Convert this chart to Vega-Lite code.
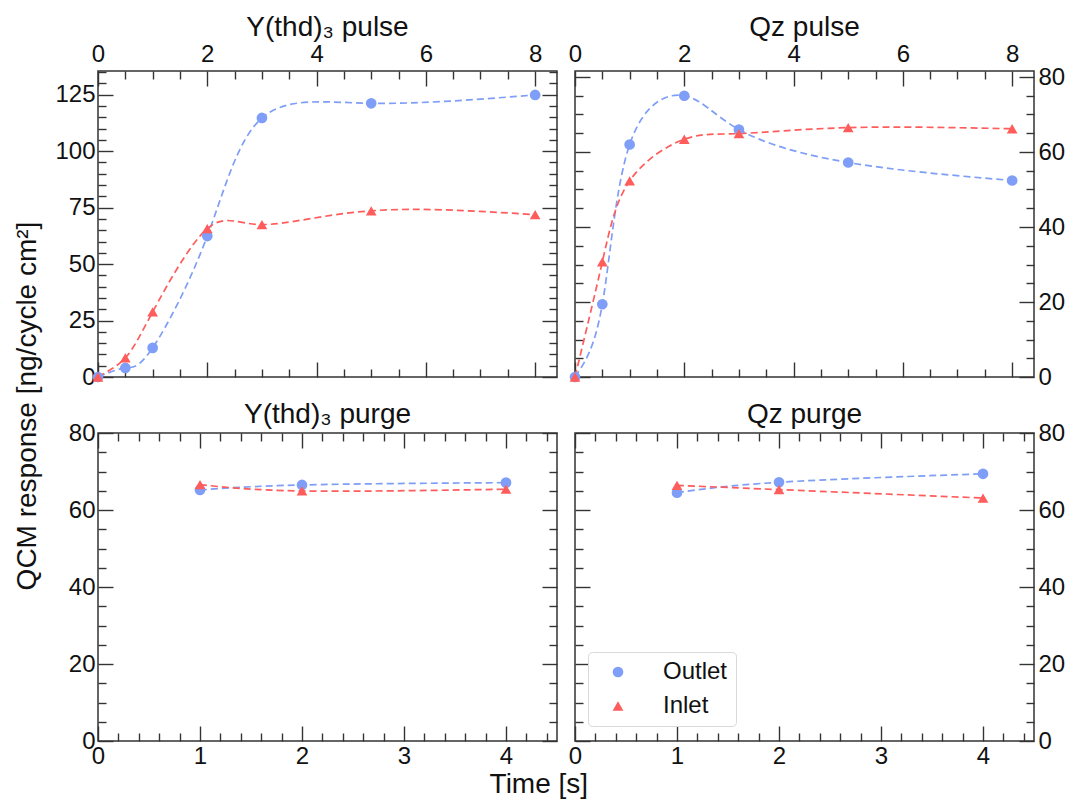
{
  "$schema": "https://vega.github.io/schema/vega-lite/v6.json",
  "background": "white",
  "padding": {"left": 14, "top": 13, "right": 0, "bottom": 0},
  "config": {
    "font": "Liberation Sans",
    "view": {"stroke": "#333333", "strokeWidth": 1.5},
    "axis": {"domain": false, "grid": false, "labelFont": "Liberation Sans", "labelFontSize": 24, "labelColor": "#111111", "tickColor": "#333333", "tickWidth": 1.4, "labelFlush": false, "labelOverlap": false},
    "title": {"font": "Liberation Sans", "fontSize": 28, "fontWeight": "normal", "color": "#111111"},
    "legend": {"labelFont": "Liberation Sans", "labelFontSize": 24, "labelColor": "#111111"}
  },
  "datasets": {
    "pts": [
      {"panel": "TL", "series": "Outlet", "t": 0, "v": 0},
      {"panel": "TL", "series": "Outlet", "t": 0.5, "v": 4.0},
      {"panel": "TL", "series": "Outlet", "t": 1, "v": 12.9},
      {"panel": "TL", "series": "Outlet", "t": 2, "v": 62.4},
      {"panel": "TL", "series": "Outlet", "t": 3, "v": 114.7},
      {"panel": "TL", "series": "Outlet", "t": 5, "v": 121.2},
      {"panel": "TL", "series": "Outlet", "t": 8, "v": 124.9},
      {"panel": "TL", "series": "Inlet", "t": 0, "v": 0},
      {"panel": "TL", "series": "Inlet", "t": 0.5, "v": 8.5},
      {"panel": "TL", "series": "Inlet", "t": 1, "v": 28.8},
      {"panel": "TL", "series": "Inlet", "t": 2, "v": 65.7},
      {"panel": "TL", "series": "Inlet", "t": 3, "v": 67.5},
      {"panel": "TL", "series": "Inlet", "t": 5, "v": 73.6},
      {"panel": "TL", "series": "Inlet", "t": 8, "v": 71.9},
      {"panel": "TR", "series": "Outlet", "t": 0, "v": 0},
      {"panel": "TR", "series": "Outlet", "t": 0.5, "v": 19.4},
      {"panel": "TR", "series": "Outlet", "t": 1, "v": 62.0},
      {"panel": "TR", "series": "Outlet", "t": 2, "v": 75.0},
      {"panel": "TR", "series": "Outlet", "t": 3, "v": 66.0},
      {"panel": "TR", "series": "Outlet", "t": 5, "v": 57.2},
      {"panel": "TR", "series": "Outlet", "t": 8, "v": 52.4},
      {"panel": "TR", "series": "Inlet", "t": 0, "v": 0},
      {"panel": "TR", "series": "Inlet", "t": 0.5, "v": 30.7},
      {"panel": "TR", "series": "Inlet", "t": 1, "v": 52.3},
      {"panel": "TR", "series": "Inlet", "t": 2, "v": 63.4},
      {"panel": "TR", "series": "Inlet", "t": 3, "v": 64.9},
      {"panel": "TR", "series": "Inlet", "t": 5, "v": 66.5},
      {"panel": "TR", "series": "Inlet", "t": 8, "v": 66.2},
      {"panel": "BL", "series": "Outlet", "t": 1, "v": 65.2},
      {"panel": "BL", "series": "Outlet", "t": 2, "v": 66.5},
      {"panel": "BL", "series": "Outlet", "t": 4, "v": 67.1},
      {"panel": "BL", "series": "Inlet", "t": 1, "v": 66.6},
      {"panel": "BL", "series": "Inlet", "t": 2, "v": 64.95},
      {"panel": "BL", "series": "Inlet", "t": 4, "v": 65.4},
      {"panel": "BR", "series": "Outlet", "t": 1, "v": 64.5},
      {"panel": "BR", "series": "Outlet", "t": 2, "v": 67.2},
      {"panel": "BR", "series": "Outlet", "t": 4, "v": 69.4},
      {"panel": "BR", "series": "Inlet", "t": 1, "v": 66.4},
      {"panel": "BR", "series": "Inlet", "t": 2, "v": 65.3},
      {"panel": "BR", "series": "Inlet", "t": 4, "v": 63.1}
    ]
  },
  "title": {"text": "QCM response [ng/cycle cm²]", "orient": "left", "anchor": "middle", "fontSize": 28, "offset": 12},
  "resolve": {"scale": {"color": "independent", "shape": "independent"}, "legend": {"color": "independent", "shape": "independent"}},
  "hconcat": [
    {
      "title": {"text": "Time [s]", "orient": "bottom", "anchor": "middle", "fontSize": 28, "dx": -21, "offset": 2},
      "spacing": 10,
      "resolve": {"scale": {"color": "independent", "shape": "independent"}, "legend": {"color": "independent", "shape": "independent"}},
      "vconcat": [
        {
          "spacing": 8,
          "resolve": {"scale": {"color": "independent", "shape": "independent"}, "legend": {"color": "independent", "shape": "independent"}},
          "hconcat": [
            {
              "width": 459, "height": 306,
              "title": {"text": "Y(thd)₃ pulse", "fontSize": 28, "offset": 0},
              "data": {"name": "pts"},
              "transform": [{"filter": "datum.panel === 'TL'"}],
              "resolve": {"axis": {"x": "independent", "y": "independent"}},
              "layer": [
                {
                  "transform": [{"filter": "datum.series === 'Outlet'"}],
                  "mark": {"type": "line", "interpolate": "natural", "strokeDash": [7, 4], "strokeWidth": 1.7, "color": "#7f9ef7"},
                  "encoding": {
                    "x": {"field": "t", "type": "quantitative", "scale": {"domain": [0, 8.4], "nice": false, "zero": false}, "axis": {"orient": "top", "ticks": false, "values": [0, 2, 4, 6, 8], "labelPadding": 5, "title": null}},
                    "y": {"field": "v", "type": "quantitative", "scale": {"domain": [0, 135.5], "nice": false, "zero": false}, "axis": {"orient": "left", "ticks": false, "values": [0, 25, 50, 75, 100, 125], "labelPadding": 3, "title": null}}
                  }
                },
                {
                  "transform": [{"filter": "datum.series === 'Inlet'"}],
                  "mark": {"type": "line", "interpolate": "natural", "strokeDash": [7, 4], "strokeWidth": 1.7, "color": "#ff5c5c"},
                  "encoding": {
                    "x": {"field": "t", "type": "quantitative", "axis": null},
                    "y": {"field": "v", "type": "quantitative", "axis": null}
                  }
                },
                {
                  "mark": {"type": "point", "filled": true, "opacity": 1, "size": 115},
                  "encoding": {
                    "x": {"field": "t", "type": "quantitative", "axis": {"orient": "bottom", "labels": false, "values": [0, 2, 4, 6, 8], "tickSize": -15, "title": null}},
                    "y": {"field": "v", "type": "quantitative", "axis": {"orient": "right", "labels": false, "values": [0, 25, 50, 75, 100, 125], "tickSize": -15, "title": null}},
                    "color": {"field": "series", "type": "nominal", "scale": {"domain": ["Outlet", "Inlet"], "range": ["#7f9ef7", "#ff5c5c"]}, "legend": null},
                    "shape": {"field": "series", "type": "nominal", "scale": {"domain": ["Outlet", "Inlet"], "range": ["circle", "triangle-up"]}, "legend": null}
                  }
                },
                {
                  "mark": {"type": "point", "opacity": 0},
                  "encoding": {
                    "x": {"field": "t", "type": "quantitative", "axis": {"orient": "top", "labels": false, "values": [0, 2, 4, 6, 8], "tickSize": -15, "title": null}},
                    "y": {"field": "v", "type": "quantitative", "axis": {"orient": "left", "labels": false, "values": [0, 25, 50, 75, 100, 125], "tickSize": -15, "title": null}}
                  }
                },
                {
                  "mark": {"type": "point", "opacity": 0},
                  "encoding": {
                    "x": {"field": "t", "type": "quantitative", "axis": {"orient": "bottom", "labels": false, "values": [0.5, 1, 1.5, 2.5, 3, 3.5, 4.5, 5, 5.5, 6.5, 7, 7.5], "tickSize": -8, "title": null}},
                    "y": {"field": "v", "type": "quantitative", "axis": {"orient": "right", "labels": false, "values": [5, 10, 15, 20, 30, 35, 40, 45, 55, 60, 65, 70, 80, 85, 90, 95, 105, 110, 115, 120, 130, 135], "tickSize": -8, "title": null}}
                  }
                },
                {
                  "mark": {"type": "point", "opacity": 0},
                  "encoding": {
                    "x": {"field": "t", "type": "quantitative", "axis": {"orient": "top", "labels": false, "values": [0.5, 1, 1.5, 2.5, 3, 3.5, 4.5, 5, 5.5, 6.5, 7, 7.5], "tickSize": -8, "title": null}},
                    "y": {"field": "v", "type": "quantitative", "axis": {"orient": "left", "labels": false, "values": [5, 10, 15, 20, 30, 35, 40, 45, 55, 60, 65, 70, 80, 85, 90, 95, 105, 110, 115, 120, 130, 135], "tickSize": -8, "title": null}}
                  }
                }
              ]
            },
            {
              "width": 459, "height": 306,
              "title": {"text": "Qz pulse", "fontSize": 28, "offset": 0},
              "data": {"name": "pts"},
              "transform": [{"filter": "datum.panel === 'TR'"}],
              "resolve": {"axis": {"x": "independent", "y": "independent"}},
              "layer": [
                {
                  "transform": [{"filter": "datum.series === 'Outlet'"}],
                  "mark": {"type": "line", "interpolate": "natural", "strokeDash": [7, 4], "strokeWidth": 1.7, "color": "#7f9ef7"},
                  "encoding": {
                    "x": {"field": "t", "type": "quantitative", "scale": {"domain": [0, 8.4], "nice": false, "zero": false}, "axis": {"orient": "top", "ticks": false, "values": [0, 2, 4, 6, 8], "labelPadding": 5, "title": null}},
                    "y": {"field": "v", "type": "quantitative", "scale": {"domain": [0, 81.6], "nice": false, "zero": false}, "axis": {"orient": "right", "ticks": false, "values": [0, 20, 40, 60, 80], "labelPadding": 4, "title": null}}
                  }
                },
                {
                  "transform": [{"filter": "datum.series === 'Inlet'"}],
                  "mark": {"type": "line", "interpolate": "natural", "strokeDash": [7, 4], "strokeWidth": 1.7, "color": "#ff5c5c"},
                  "encoding": {
                    "x": {"field": "t", "type": "quantitative", "axis": null},
                    "y": {"field": "v", "type": "quantitative", "axis": null}
                  }
                },
                {
                  "mark": {"type": "point", "filled": true, "opacity": 1, "size": 115},
                  "encoding": {
                    "x": {"field": "t", "type": "quantitative", "axis": {"orient": "bottom", "labels": false, "values": [0, 2, 4, 6, 8], "tickSize": -15, "title": null}},
                    "y": {"field": "v", "type": "quantitative", "axis": {"orient": "left", "labels": false, "values": [0, 20, 40, 60, 80], "tickSize": -15, "title": null}},
                    "color": {"field": "series", "type": "nominal", "scale": {"domain": ["Outlet", "Inlet"], "range": ["#7f9ef7", "#ff5c5c"]}, "legend": null},
                    "shape": {"field": "series", "type": "nominal", "scale": {"domain": ["Outlet", "Inlet"], "range": ["circle", "triangle-up"]}, "legend": null}
                  }
                },
                {
                  "mark": {"type": "point", "opacity": 0},
                  "encoding": {
                    "x": {"field": "t", "type": "quantitative", "axis": {"orient": "top", "labels": false, "values": [0, 2, 4, 6, 8], "tickSize": -15, "title": null}},
                    "y": {"field": "v", "type": "quantitative", "axis": {"orient": "right", "labels": false, "values": [0, 20, 40, 60, 80], "tickSize": -15, "title": null}}
                  }
                },
                {
                  "mark": {"type": "point", "opacity": 0},
                  "encoding": {
                    "x": {"field": "t", "type": "quantitative", "axis": {"orient": "bottom", "labels": false, "values": [0.5, 1, 1.5, 2.5, 3, 3.5, 4.5, 5, 5.5, 6.5, 7, 7.5], "tickSize": -8, "title": null}},
                    "y": {"field": "v", "type": "quantitative", "axis": {"orient": "left", "labels": false, "values": [5, 10, 15, 25, 30, 35, 45, 50, 55, 65, 70, 75], "tickSize": -8, "title": null}}
                  }
                },
                {
                  "mark": {"type": "point", "opacity": 0},
                  "encoding": {
                    "x": {"field": "t", "type": "quantitative", "axis": {"orient": "top", "labels": false, "values": [0.5, 1, 1.5, 2.5, 3, 3.5, 4.5, 5, 5.5, 6.5, 7, 7.5], "tickSize": -8, "title": null}},
                    "y": {"field": "v", "type": "quantitative", "axis": {"orient": "right", "labels": false, "values": [5, 10, 15, 25, 30, 35, 45, 50, 55, 65, 70, 75], "tickSize": -8, "title": null}}
                  }
                }
              ]
            }
          ]
        },
        {
          "spacing": 8,
          "resolve": {"scale": {"color": "independent", "shape": "independent"}, "legend": {"color": "independent", "shape": "independent"}},
          "hconcat": [
            {
              "width": 459, "height": 308,
              "title": {"text": "Y(thd)₃ purge", "fontSize": 28, "offset": -8},
              "data": {"name": "pts"},
              "transform": [{"filter": "datum.panel === 'BL'"}],
              "resolve": {"axis": {"x": "independent", "y": "independent"}},
              "layer": [
                {
                  "transform": [{"filter": "datum.series === 'Outlet'"}],
                  "mark": {"type": "line", "interpolate": "natural", "strokeDash": [7, 4], "strokeWidth": 1.7, "color": "#7f9ef7"},
                  "encoding": {
                    "x": {"field": "t", "type": "quantitative", "scale": {"domain": [0, 4.5], "nice": false, "zero": false}, "axis": {"orient": "bottom", "ticks": false, "values": [0, 1, 2, 3, 4], "labelPadding": 3, "title": null}},
                    "y": {"field": "v", "type": "quantitative", "scale": {"domain": [0, 80], "nice": false, "zero": false}, "axis": {"orient": "left", "ticks": false, "values": [0, 20, 40, 60, 80], "labelPadding": 3, "title": null}}
                  }
                },
                {
                  "transform": [{"filter": "datum.series === 'Inlet'"}],
                  "mark": {"type": "line", "interpolate": "natural", "strokeDash": [7, 4], "strokeWidth": 1.7, "color": "#ff5c5c"},
                  "encoding": {
                    "x": {"field": "t", "type": "quantitative", "axis": null},
                    "y": {"field": "v", "type": "quantitative", "axis": null}
                  }
                },
                {
                  "mark": {"type": "point", "filled": true, "opacity": 1, "size": 115},
                  "encoding": {
                    "x": {"field": "t", "type": "quantitative", "axis": {"orient": "top", "labels": false, "values": [0, 1, 2, 3, 4], "tickSize": -15, "title": null}},
                    "y": {"field": "v", "type": "quantitative", "axis": {"orient": "right", "labels": false, "values": [0, 20, 40, 60, 80], "tickSize": -15, "title": null}},
                    "color": {"field": "series", "type": "nominal", "scale": {"domain": ["Outlet", "Inlet"], "range": ["#7f9ef7", "#ff5c5c"]}, "legend": null},
                    "shape": {"field": "series", "type": "nominal", "scale": {"domain": ["Outlet", "Inlet"], "range": ["circle", "triangle-up"]}, "legend": null}
                  }
                },
                {
                  "mark": {"type": "point", "opacity": 0},
                  "encoding": {
                    "x": {"field": "t", "type": "quantitative", "axis": {"orient": "bottom", "labels": false, "values": [0, 1, 2, 3, 4], "tickSize": -15, "title": null}},
                    "y": {"field": "v", "type": "quantitative", "axis": {"orient": "left", "labels": false, "values": [0, 20, 40, 60, 80], "tickSize": -15, "title": null}}
                  }
                },
                {
                  "mark": {"type": "point", "opacity": 0},
                  "encoding": {
                    "x": {"field": "t", "type": "quantitative", "axis": {"orient": "bottom", "labels": false, "values": [0.2, 0.4, 0.6, 0.8, 1.2, 1.4, 1.6, 1.8, 2.2, 2.4, 2.6, 2.8, 3.2, 3.4, 3.6, 3.8, 4.2, 4.4], "tickSize": -8, "title": null}},
                    "y": {"field": "v", "type": "quantitative", "axis": {"orient": "right", "labels": false, "values": [5, 10, 15, 25, 30, 35, 45, 50, 55, 65, 70, 75], "tickSize": -8, "title": null}}
                  }
                },
                {
                  "mark": {"type": "point", "opacity": 0},
                  "encoding": {
                    "x": {"field": "t", "type": "quantitative", "axis": {"orient": "top", "labels": false, "values": [0.2, 0.4, 0.6, 0.8, 1.2, 1.4, 1.6, 1.8, 2.2, 2.4, 2.6, 2.8, 3.2, 3.4, 3.6, 3.8, 4.2, 4.4], "tickSize": -8, "title": null}},
                    "y": {"field": "v", "type": "quantitative", "axis": {"orient": "left", "labels": false, "values": [5, 10, 15, 25, 30, 35, 45, 50, 55, 65, 70, 75], "tickSize": -8, "title": null}}
                  }
                }
              ]
            },
            {
              "width": 459, "height": 308,
              "title": {"text": "Qz purge", "fontSize": 28, "offset": -8},
              "data": {"name": "pts"},
              "transform": [{"filter": "datum.panel === 'BR'"}],
              "resolve": {"axis": {"x": "independent", "y": "independent"}},
              "layer": [
                {
                  "transform": [{"filter": "datum.series === 'Outlet'"}],
                  "mark": {"type": "line", "interpolate": "natural", "strokeDash": [7, 4], "strokeWidth": 1.7, "color": "#7f9ef7"},
                  "encoding": {
                    "x": {"field": "t", "type": "quantitative", "scale": {"domain": [0, 4.5], "nice": false, "zero": false}, "axis": {"orient": "bottom", "ticks": false, "values": [0, 1, 2, 3, 4], "labelPadding": 3, "title": null}},
                    "y": {"field": "v", "type": "quantitative", "scale": {"domain": [0, 80], "nice": false, "zero": false}, "axis": {"orient": "right", "ticks": false, "values": [0, 20, 40, 60, 80], "labelPadding": 4, "title": null}}
                  }
                },
                {
                  "transform": [{"filter": "datum.series === 'Inlet'"}],
                  "mark": {"type": "line", "interpolate": "natural", "strokeDash": [7, 4], "strokeWidth": 1.7, "color": "#ff5c5c"},
                  "encoding": {
                    "x": {"field": "t", "type": "quantitative", "axis": null},
                    "y": {"field": "v", "type": "quantitative", "axis": null}
                  }
                },
                {
                  "mark": {"type": "point", "filled": true, "opacity": 1, "size": 115},
                  "encoding": {
                    "x": {"field": "t", "type": "quantitative", "axis": {"orient": "top", "labels": false, "values": [0, 1, 2, 3, 4], "tickSize": -15, "title": null}},
                    "y": {"field": "v", "type": "quantitative", "axis": {"orient": "left", "labels": false, "values": [0, 20, 40, 60, 80], "tickSize": -15, "title": null}},
                    "color": {"field": "series", "type": "nominal", "scale": {"domain": ["Outlet", "Inlet"], "range": ["#7f9ef7", "#ff5c5c"]}, "legend": {"title": null, "orient": "none", "legendX": 13, "legendY": 219, "padding": 8, "symbolOffset": 10, "labelOffset": 33, "rowPadding": 10, "strokeColor": "#d9d9d9", "cornerRadius": 4, "fillColor": "white", "symbolSize": 115}},
                    "shape": {"field": "series", "type": "nominal", "scale": {"domain": ["Outlet", "Inlet"], "range": ["circle", "triangle-up"]}, "legend": {"title": null, "orient": "none", "legendX": 13, "legendY": 219, "padding": 8, "symbolOffset": 10, "labelOffset": 33, "rowPadding": 10, "strokeColor": "#d9d9d9", "cornerRadius": 4, "fillColor": "white", "symbolSize": 115}}
                  }
                },
                {
                  "mark": {"type": "point", "opacity": 0},
                  "encoding": {
                    "x": {"field": "t", "type": "quantitative", "axis": {"orient": "bottom", "labels": false, "values": [0, 1, 2, 3, 4], "tickSize": -15, "title": null}},
                    "y": {"field": "v", "type": "quantitative", "axis": {"orient": "right", "labels": false, "values": [0, 20, 40, 60, 80], "tickSize": -15, "title": null}}
                  }
                },
                {
                  "mark": {"type": "point", "opacity": 0},
                  "encoding": {
                    "x": {"field": "t", "type": "quantitative", "axis": {"orient": "bottom", "labels": false, "values": [0.2, 0.4, 0.6, 0.8, 1.2, 1.4, 1.6, 1.8, 2.2, 2.4, 2.6, 2.8, 3.2, 3.4, 3.6, 3.8, 4.2, 4.4], "tickSize": -8, "title": null}},
                    "y": {"field": "v", "type": "quantitative", "axis": {"orient": "left", "labels": false, "values": [5, 10, 15, 25, 30, 35, 45, 50, 55, 65, 70, 75], "tickSize": -8, "title": null}}
                  }
                },
                {
                  "mark": {"type": "point", "opacity": 0},
                  "encoding": {
                    "x": {"field": "t", "type": "quantitative", "axis": {"orient": "top", "labels": false, "values": [0.2, 0.4, 0.6, 0.8, 1.2, 1.4, 1.6, 1.8, 2.2, 2.4, 2.6, 2.8, 3.2, 3.4, 3.6, 3.8, 4.2, 4.4], "tickSize": -8, "title": null}},
                    "y": {"field": "v", "type": "quantitative", "axis": {"orient": "right", "labels": false, "values": [5, 10, 15, 25, 30, 35, 45, 50, 55, 65, 70, 75], "tickSize": -8, "title": null}}
                  }
                }
              ]
            }
          ]
        }
      ]
    }
  ]
}
